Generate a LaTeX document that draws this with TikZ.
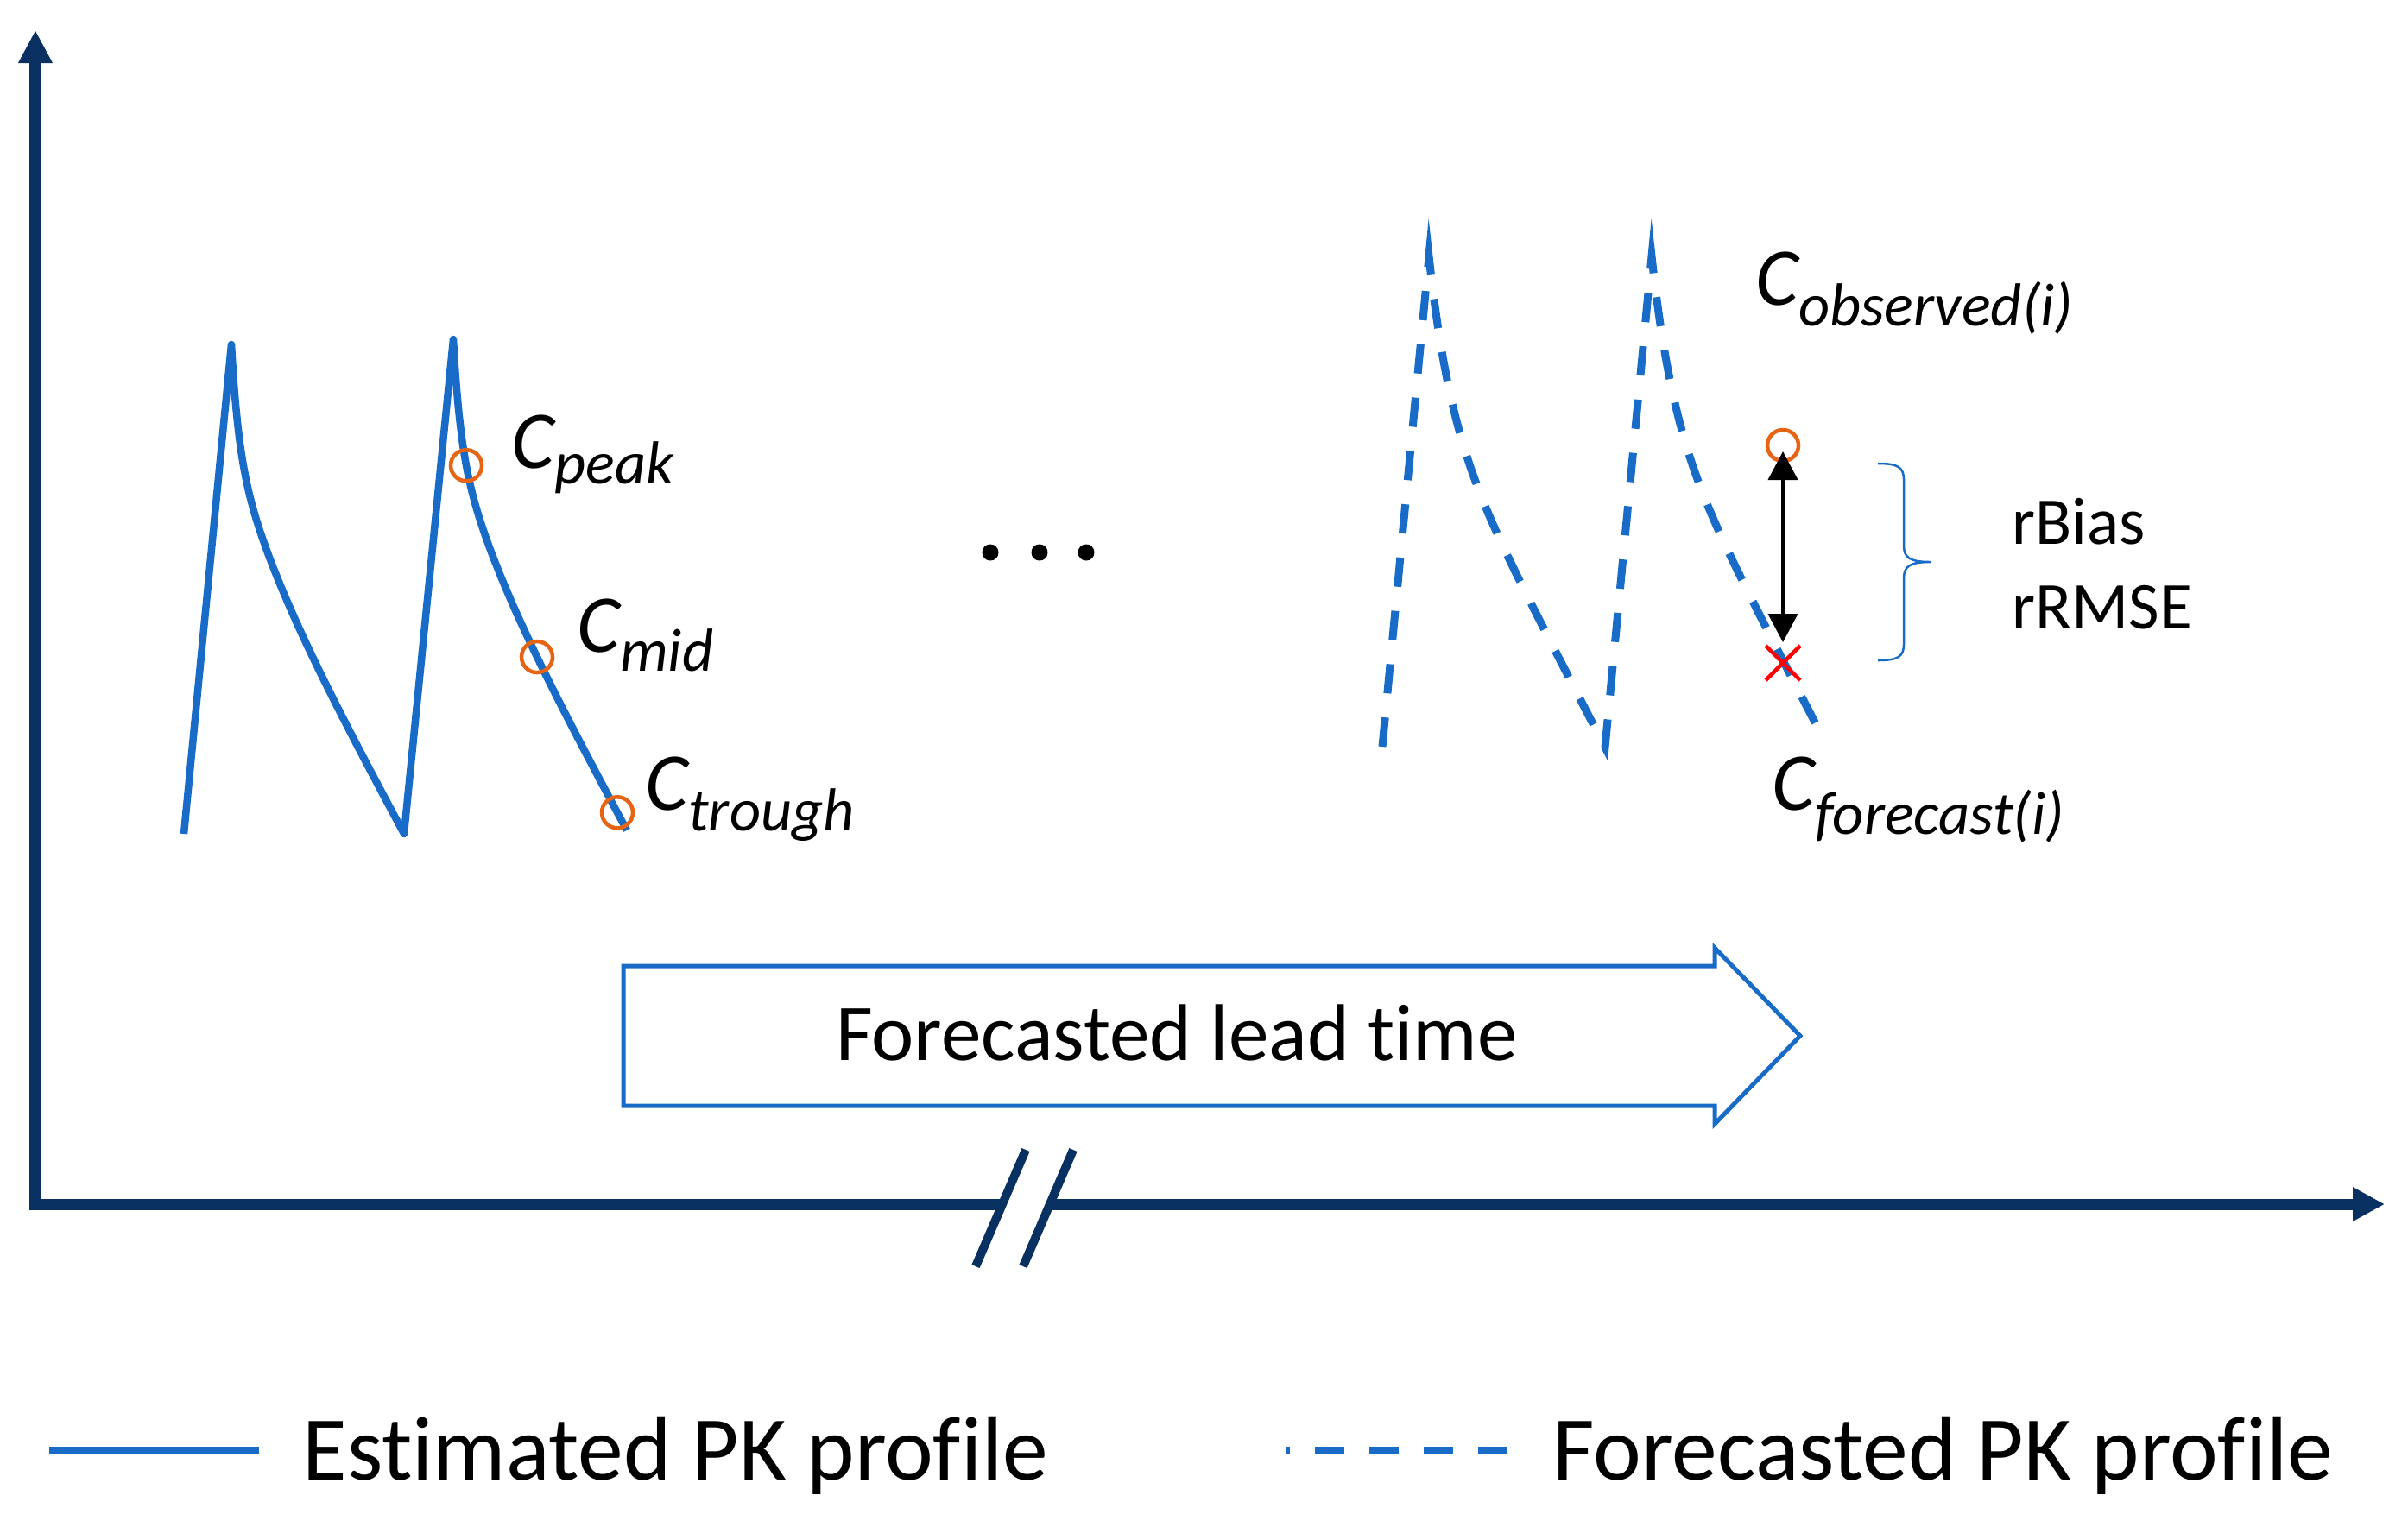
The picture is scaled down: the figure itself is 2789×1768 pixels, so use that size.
\documentclass[tikz,border=0pt]{standalone}
\usepackage{fontspec}
\setmainfont{Carlito}[Ligatures=NoCommon]
\usetikzlibrary{arrows.meta}
\definecolor{pkblue}{RGB}{24,108,200}
\definecolor{axisnavy}{RGB}{8,48,96}
\definecolor{pkorange}{RGB}{230,100,20}
\newcommand{\clab}[2]{C\raisebox{-#1}{\fontsize{20}{24}\selectfont #2}}
\begin{document}
\begin{tikzpicture}[x=0.01cm,y=-0.01cm,
  declare function={pkest(\u)=110*(1-exp(-\u/8))+90*(1-exp(-\u/45))+1.84*\u;
                    pkfc(\u)=175*(1-exp(-\u/24))+1.93*\u;},
  axisline/.style={draw=axisnavy, line width=0.13cm},
  breakmark/.style={draw=axisnavy, line width=0.1cm},
  solidpk/.style={draw=pkblue, line width=0.085cm, line join=round},
  dashpk/.style={draw=pkblue, line width=0.09cm, dash pattern=on 0.34cm off 0.28cm},
  ptcircle/.style={circle, draw=pkorange, line width=0.045cm, minimum size=0.36cm, inner sep=0pt},
  clabel/.style={inner sep=0pt, anchor=base west, font=\fontsize{27}{32}\selectfont\itshape},
  metric/.style={inner sep=0pt, anchor=base west, font=\fontsize{22}{26}\selectfont},
  legtext/.style={inner sep=0pt, anchor=base west, font=\fontsize{30}{36}\selectfont},
  leadbox/.style={draw=pkblue, line width=0.05cm, line join=miter},
  bracel/.style={draw=pkblue, line width=0.025cm},
  errarrow/.style={draw=black, line width=0.04cm, {Triangle[length=0.33cm,width=0.34cm]}-{Triangle[length=0.33cm,width=0.34cm]}},
  xmark/.style={draw=red, line width=0.045cm}]
\useasboundingbox (0,0) rectangle (2789,1768);

% axes
\draw[axisline, line cap=rect, -{Triangle[length=0.38cm,width=0.37cm]}] (41,1395) -- (41,35);
\draw[axisline] (34.5,1395) -- (1161,1395);
\draw[axisline, -{Triangle[length=0.37cm,width=0.37cm]}] (1216,1395) -- (2762,1395);
\draw[breakmark] (1130,1467) -- (1188,1332);
\draw[breakmark] (1185,1467) -- (1243,1332);

% estimated (solid) PK profile
\draw[solidpk] (213,966) -- (268,399)
  -- plot[domain=0:200,samples=150] ({268+\x},{399+pkest(\x)})
  -- (525,393)
  -- plot[domain=0:201,samples=150] ({525+\x},{393+pkest(\x)});

\node[ptcircle] (cpeak) at ({525+15},{393+pkest(15)}) {};
\node[ptcircle] (cmid) at ({525+97},{393+pkest(97)}) {};
\node[ptcircle] (ctrough) at ({525+190},{393+pkest(190)}) {};

\node[clabel] (lpeak) at (592,542) {\clab{0.18cm}{peak}};
\node[clabel] (lmid) at (668,755) {\clab{0.22cm}{mid}};
\node[clabel] (ltrough) at (747,938) {\clab{0.24cm}{trough}};

% ellipsis
\fill (1147,640) circle[radius=0.095cm];
\fill (1204,640) circle[radius=0.095cm];
\fill (1258,640) circle[radius=0.095cm];

% forecasted (dashed) PK profile
\draw[dashpk] (1601,865) -- (1655,297)
  -- plot[domain=0:204,samples=120] ({1655+\x},{297+pkfc(\x)})
  -- (1913,297)
  -- plot[domain=0:201,samples=120] ({1913+\x},{297+pkfc(\x)});

\node[ptcircle] (obs) at (2065,516) {};
\coordinate (fc) at (2065,768);
\coordinate (arrtop) at (2065,523);
\coordinate (arrbot) at (2065,744);
\draw[errarrow] (arrtop) -- (arrbot);
\draw[xmark] ([shift={(-20,-20)}]fc) -- ([shift={(20,20)}]fc);
\draw[xmark] ([shift={(-20,20)}]fc) -- ([shift={(20,-20)}]fc);

\node[clabel] (lobs) at (2033,353) {\clab{0.24cm}{observed(i)}};
\node[clabel] (lfc) at (2052,938) {\clab{0.28cm}{forecast(i)}};

% brace and metrics
\draw[bracel] (2175,537) .. controls (2198,537) and (2205,541) .. (2205,556)
  -- (2205,632) .. controls (2205,646) and (2212,651) .. (2236,651)
  .. controls (2212,651) and (2205,656) .. (2205,670)
  -- (2205,746) .. controls (2205,761) and (2198,765) .. (2175,765);
\node[metric] (rbias) at (2330,630) {rBias};
\node[metric] (rrmse) at (2330,728) {rRMSE};

% forecasted lead time block arrow
\draw[leadbox] (722,1119) -- (1986,1119) -- (1986,1098) -- (2085,1200)
  -- (1986,1302) -- (1986,1281) -- (722,1281) -- cycle;
\node[inner sep=0pt, anchor=base, font=\fontsize{26.5}{32}\selectfont] (lead) at (1363,1228) {Forecasted lead time};

% legend
\coordinate (legsA) at (57,1680);
\coordinate (legsB) at (300,1680);
\draw[draw=pkblue, line width=0.09cm] (legsA) -- (legsB);
\node[legtext] (legest) at (350,1714) {Estimated PK profile};
\coordinate (legdA) at (1746,1680);
\coordinate (legdB) at (1490,1680);
\draw[draw=pkblue, line width=0.09cm, dash pattern=on 0.34cm off 0.29cm] (legdA) -- (legdB);
\node[legtext] (legfc) at (1798,1714) {Forecasted PK profile};
\end{tikzpicture}
\end{document}
